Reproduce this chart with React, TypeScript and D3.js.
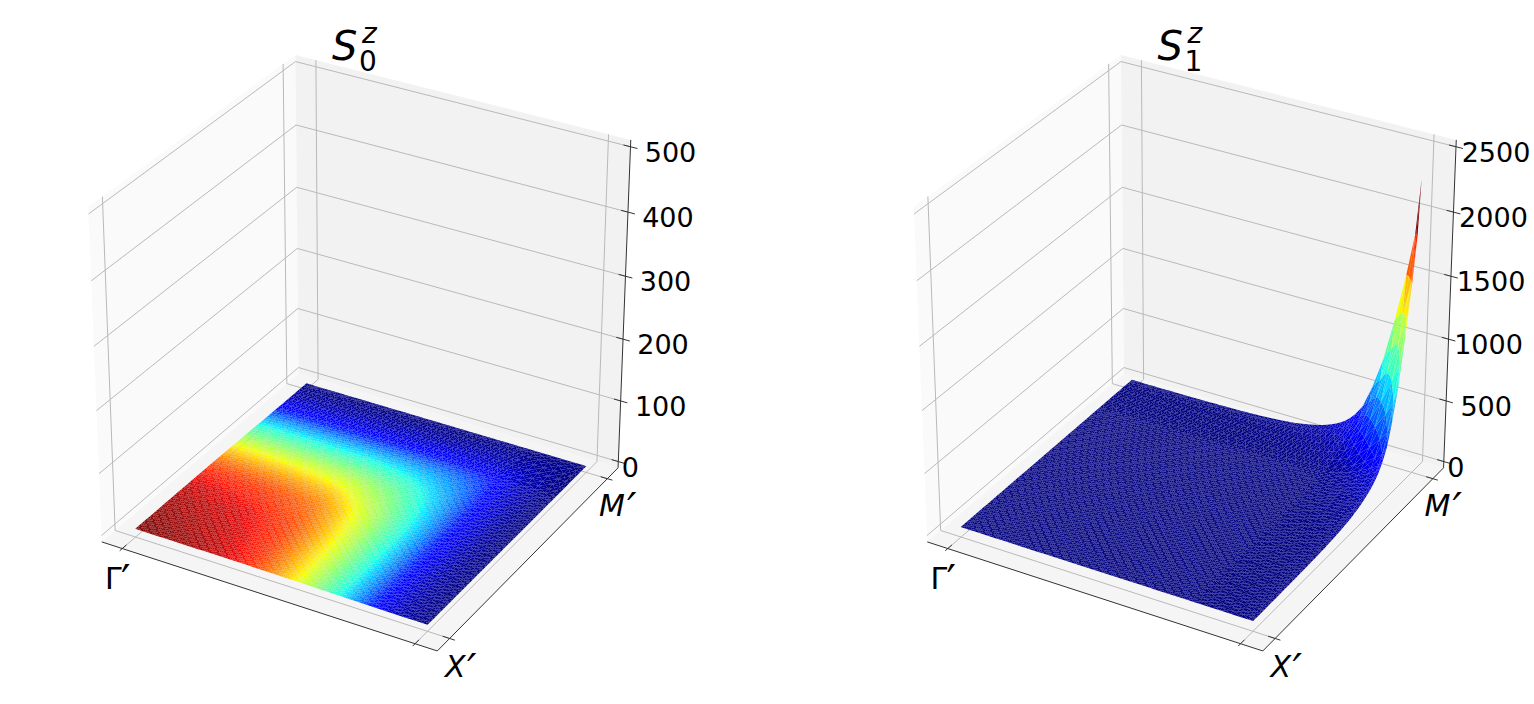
import React, { useRef, useEffect } from 'react';
import * as d3 from 'd3';

// shared k-grid of the surface, from Gamma' (0) to X' or M' (1)
const gridK = [
  0, 0.016, 0.032, 0.048, 0.064, 0.08, 0.096, 0.112, 0.128, 0.144, 0.16, 0.176, 0.192, 0.208, 0.224,
  0.24, 0.256, 0.272, 0.288, 0.304, 0.32, 0.336, 0.352, 0.368, 0.384, 0.4, 0.416, 0.432, 0.448, 0.464,
  0.48, 0.496, 0.512, 0.528, 0.544, 0.56, 0.576, 0.592, 0.608, 0.624, 0.64, 0.656, 0.672, 0.688, 0.704,
  0.72, 0.736, 0.752, 0.768, 0.784, 0.8, 0.825, 0.855, 0.89, 0.925, 0.96, 0.985, 1,
];

// S0 along one edge of the plane
const s0Profile = [
  3.0, 3.0, 2.99, 2.99, 2.98, 2.97, 2.96, 2.95, 2.94, 2.93, 2.92, 2.91, 2.9, 2.89, 2.87,
  2.86, 2.84, 2.82, 2.8, 2.78, 2.75, 2.72, 2.7, 2.67, 2.64, 2.6, 2.55, 2.49, 2.43, 2.37,
  2.3, 2.23, 2.15, 2.08, 2.01, 1.94, 1.85, 1.77, 1.68, 1.59, 1.5, 1.41, 1.32, 1.23, 1.14,
  1.05, 0.95, 0.86, 0.75, 0.65, 0.54, 0.41, 0.28, 0.18, 0.1, 0.05, 0.02, 0.005,
];

// S1 along the far edges, where it rises to the corner at M'
const s1Profile = [
  30, 30, 30, 30, 30, 31, 31, 31, 31, 32, 32, 32, 33, 33, 33,
  34, 34, 35, 35, 36, 36, 37, 38, 39, 40, 41, 42, 43, 45, 47,
  49, 51, 54, 57, 60, 64, 68, 73, 79, 86, 94, 102, 112, 123, 136,
  150, 168, 190, 215, 250, 290, 370, 540, 790, 1130, 1520, 1850, 2280,
];

const s0Ticks = [0, 100, 200, 300, 400, 500];
const s1Ticks = [0, 500, 1000, 1500, 2000, 2500];
const kTicks = [0, 1];

// jet colormap channels
const jetR = d3.scaleLinear().domain([0, 0.35, 0.66, 0.89, 1]).range([0, 0, 1, 1, 0.5]);
const jetG = d3.scaleLinear().domain([0, 0.125, 0.375, 0.64, 0.91, 1]).range([0, 0, 1, 1, 0, 0]);
const jetB = d3.scaleLinear().domain([0, 0.11, 0.34, 0.65, 1]).range([0.5, 1, 1, 0, 0]);
const jet = (t) => d3.rgb(jetR(t) * 255, jetG(t) * 255, jetB(t) * 255).formatRgb();

// camera: elev 30, azim -60, dist 10
const U = [0.866, 0.5, 0];
const V = [-0.25, 0.433, 0.866];
const N = [0.433, -0.75, 0.5];
const Z_BOX = 0.99;
const dot = (a, b) => a[0] * b[0] + a[1] * b[1] + a[2] * b[2];
const depthOf = (p) => 10 - dot([p[0] - 0.5, p[1] - 0.5, p[2] * Z_BOX - 0.5], N);

const pxX = d3.scaleLinear().domain([-0.677, 0.656]).range([101.7, 618]);
const pxY = d3.scaleLinear().domain([-0.52, -0.802]).range([542, 651]);

const project = (p, dx) => {
  const d = [p[0] - 0.5, p[1] - 0.5, p[2] * Z_BOX - 0.5];
  const f = 10 / (10 - dot(d, N));
  return [pxX(dot(d, U) * f) + dx, pxY(dot(d, V) * f)];
};

const drawPanel = (svg, { dx, ticks, sub, surface }) => {
  const g = svg.append('g');
  const fx = d3.scaleLinear().domain([0, 1]).range([0.0636, 0.9364]);
  const fz = d3.scaleLinear().domain([0, ticks[ticks.length - 1]]).range([0.02, 0.98]);
  const line = d3.line().x(d => project(d, dx)[0]).y(d => project(d, dx)[1]);
  const poly = (pts) => line(pts) + 'Z';

  // panes
  g.append('path').attr('d', poly([[0, 0, 0], [0, 1, 0], [0, 1, 1], [0, 0, 1]])).attr('fill', '#fafafa');
  g.append('path').attr('d', poly([[0, 1, 0], [1, 1, 0], [1, 1, 1], [0, 1, 1]])).attr('fill', '#f2f2f2');
  g.append('path').attr('d', poly([[0, 0, 0], [1, 0, 0], [1, 1, 0], [0, 1, 0]])).attr('fill', '#f5f5f5');

  // grid
  const grid = (pts) => g.append('path').attr('d', line(pts)).attr('fill', 'none')
    .attr('stroke', '#b9b9b9').attr('stroke-width', 1);
  ticks.forEach(t => grid([[0, 0, fz(t)], [0, 1, fz(t)], [1, 1, fz(t)]]));
  kTicks.forEach(t => {
    grid([[fx(t), 0, 0], [fx(t), 1, 0], [fx(t), 1, 1]]);
    grid([[1, fx(t), 0], [0, fx(t), 0], [0, fx(t), 1]]);
  });

  // axes and tick marks
  const ink = (pts) => g.append('path').attr('d', line(pts)).attr('fill', 'none')
    .attr('stroke', '#333').attr('stroke-width', 1);
  ink([[0, 0, 0], [1, 0, 0], [1, 1, 0], [1, 1, 1]]);
  kTicks.forEach(t => {
    ink([[fx(t), -0.012, 0], [fx(t), 0.02, 0]]);
    ink([[0.98, fx(t), 0], [1.015, fx(t), 0]]);
  });
  ticks.forEach(t => ink([[0.98, 1, fz(t)], [1.02, 1, fz(t)]]));

  // surface: each cell is a fan of four triangles, far ones drawn first
  const tris = [];
  const n = gridK.length - 1;
  const vert = (i, j) => ({ k: [gridK[i], gridK[j]], z: surface(i, j) });
  const toBox = (v) => [fx(v.k[0]), fx(v.k[1]), fz(v.z)];
  d3.range(n).forEach(i => d3.range(n).forEach(j => {
    const corners = [vert(i, j), vert(i + 1, j), vert(i + 1, j + 1), vert(i, j + 1)];
    const mid = {
      k: [(gridK[i] + gridK[i + 1]) / 2, (gridK[j] + gridK[j + 1]) / 2],
      z: d3.mean(corners, d => d.z),
    };
    corners.forEach((c, q) => {
      const other = corners[(q + 1) % 4];
      tris.push({ pts: [c, other, mid].map(toBox), z: d3.mean([c, other, mid], d => d.z) });
    });
  }));
  const norm = d3.scaleLinear().domain(d3.extent(tris, d => d.z)).range([0, 1]);
  tris.sort((p, q) => d3.descending(d3.mean(p.pts, depthOf), d3.mean(q.pts, depthOf)));
  g.append('g').selectAll('path').data(tris).enter().append('path')
    .attr('d', d => poly(d.pts))
    .attr('fill', d => jet(norm(d.z)));

  // text
  const text = (x, y, str, size, style = 'normal') => g.append('text')
    .attr('x', x).attr('y', y).attr('font-family', '"DejaVu Sans"').attr('font-size', size)
    .attr('font-style', style).attr('fill', '#000').text(str);

  ticks.forEach(t => {
    const [x, y] = project([1, 1, fz(t)], dx);
    text(x + (t === 0 ? 12 : 40), y + 15, String(t), 27).attr('text-anchor', 'middle');
  });

  // k labels, the prime is set larger as in the math text
  const kLabel = (x, y, name, style, primeX, primeY) => {
    const label = text(x + dx, y, name, 30, style);
    label.append('tspan').attr('x', primeX + dx).attr('y', primeY).attr('font-size', 42).text('′');
  };
  kLabel(105, 589, 'Γ', 'normal', 121, 595);
  kLabel(445, 677, 'X', 'oblique', 467, 684);
  kLabel(599, 516, 'M', 'oblique', 627, 523);

  // title as one text with its super and subscript
  const title = text(332 + dx, 60, 'S', 40, 'oblique');
  title.append('tspan').attr('x', 362 + dx).attr('y', 43).attr('font-size', 28).text('z');
  title.append('tspan').attr('x', 359 + dx).attr('y', 71).attr('font-size', 28).attr('font-style', 'normal').text(sub);
};

const App = () => {
  const ref = useRef();

  useEffect(() => {
    const svg = d3.select(ref.current);
    svg.selectAll('*').remove();

    // rounded L-shaped level lines in S0, made from the edge profile
    const P = 1.3;
    drawPanel(svg, {
      dx: 0,
      ticks: s0Ticks,
      sub: '0',
      surface: (i, j) => (s0Profile[i] ** -P + s0Profile[j] ** -P - s0Profile[0] ** -P) ** (-1 / P),
    });
    drawPanel(svg, {
      dx: 825.5,
      ticks: s1Ticks,
      sub: '1',
      surface: (i, j) => 30 + (s1Profile[i] - 30) * (s1Profile[j] - 30) / (s1Profile[s1Profile.length - 1] - 30),
    });
  }, []);

  return (
    <svg ref={ref} width={1534} height={704} style={{ position: 'absolute', left: 0, top: 0, background: '#fff' }}></svg>
  );
};

export default App;
